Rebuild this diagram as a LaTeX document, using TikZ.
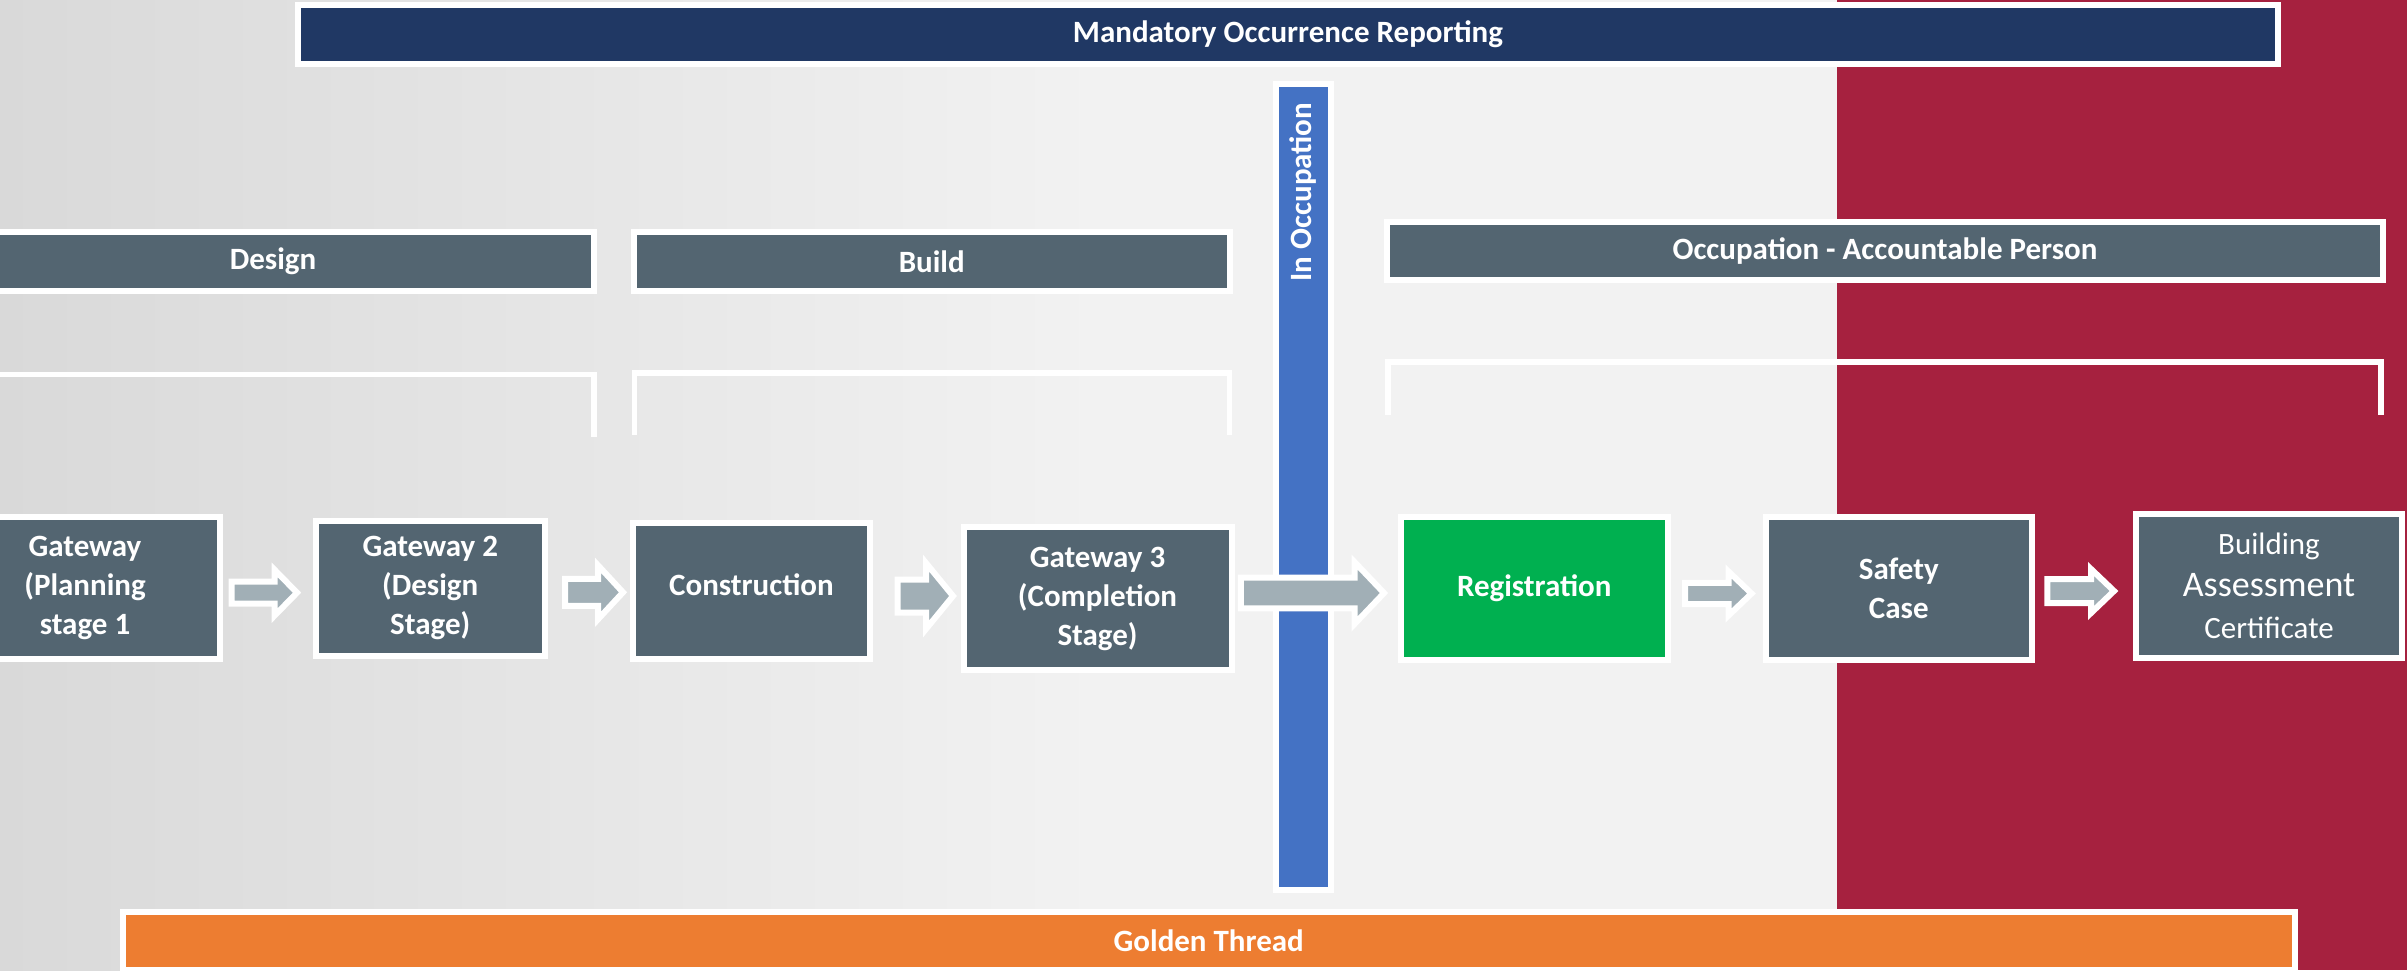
\documentclass[tikz,border=0pt]{standalone}
\usepackage{fontspec}
\setmainfont{Carlito}
\usetikzlibrary{calc}
\definecolor{navy}{HTML}{203864}
\definecolor{slate}{HTML}{536571}
\definecolor{regreen}{HTML}{00B050}
\definecolor{barblue}{HTML}{4472C4}
\definecolor{goldorange}{HTML}{ED7D31}
\definecolor{crimson}{HTML}{A6213F}
\definecolor{arrgrey}{HTML}{A1AFB6}
\definecolor{bgA}{HTML}{D9D9D9}
\definecolor{bgB}{HTML}{F2F2F2}
\tikzset{
  box/.style={draw=white, line width=3pt, fill=slate, text=white,
    font=\bfseries\fontsize{15.5}{19.5}\selectfont, align=center, inner sep=0pt},
  brk/.style={draw=white, line width=2.8pt, line join=miter},
  blk/.style={draw=white, fill=arrgrey, line width=3pt, line join=miter},
}
% #1 from, #2 to, #3 start gap, #4 end gap, #5 y centre, #6 shaft half, #7 head half, #8 head length (px)
\newcommand{\blockarrow}[8]{%
  \draw[blk] let \p1=(#1.east), \p2=(#2.west) in
    ({\x1+#3*0.5pt},{(-#5+#6)*0.5pt}) --
    ({\x2-#4*0.5pt-#8*0.5pt},{(-#5+#6)*0.5pt}) --
    ({\x2-#4*0.5pt-#8*0.5pt},{(-#5+#7)*0.5pt}) --
    ({\x2-#4*0.5pt},{-#5*0.5pt}) --
    ({\x2-#4*0.5pt-#8*0.5pt},{(-#5-#7)*0.5pt}) --
    ({\x2-#4*0.5pt-#8*0.5pt},{(-#5-#6)*0.5pt}) --
    ({\x1+#3*0.5pt},{(-#5-#6)*0.5pt}) -- cycle;}
\begin{document}
\begin{tikzpicture}[x=0.5pt,y=-0.5pt]
\useasboundingbox (0,0) rectangle (2407,970);
% background
\shade[left color=bgA, right color=bgB] (0,0) rectangle (1100,970);
\fill[bgB] (1099,0) rectangle (1837,970);
\fill[crimson] (1837,0) rectangle (2407,970);

% bars
\node[box, fill=navy, minimum width=990pt, minimum height=29.5pt] (mand) at (1288,34.5) {Mandatory Occurrence Reporting};
\node[box, minimum width=321pt, minimum height=29.25pt] (design) at (273,261.25) {Design};
\node[box, minimum width=297.75pt, minimum height=29.25pt] (build) at (931.75,261.25) {Build};
\node[box, minimum width=498pt, minimum height=29pt] (occ) at (1885,251) {Occupation - Accountable Person};
\node[box, fill=barblue, minimum width=27.5pt, minimum height=403.25pt] (inocc) at (1303.5,486.75) {};
\node[text=white, font=\bfseries\fontsize{15.5}{19.5}\selectfont, rotate=90, inner sep=0pt] (inocclbl) at (1303.5,192) {In Occupation};
\node[box, fill=goldorange, minimum width=1085.75pt, minimum height=29.25pt] (golden) at (1208.75,940.75) {Golden Thread};

% brackets
\draw[brk] (-60,374.5) -- (594,374.5) -- (594,437);
\draw[brk] (634.5,435) -- (634.5,373) -- (1229.5,373) -- (1229.5,435);
\draw[brk] (1388,415) -- (1388,362) -- (2381,362) -- (2381,415);

% stage boxes
\node[box, minimum width=134.5pt, minimum height=71.25pt] (g1) at (85,587.75) {Gateway\\(Planning\\stage 1};
\node[box, minimum width=114.25pt, minimum height=67.75pt] (g2) at (430.25,588.25) {Gateway 2\\(Design\\Stage)};
\node[box, minimum width=118.5pt, minimum height=68pt] (cons) at (751.5,591) {\raisebox{6pt}{Construction}};
\node[box, minimum width=134pt, minimum height=71.5pt] (g3) at (1097.5,598.5) {Gateway 3\\(Completion\\Stage)};
\node[box, fill=regreen, minimum width=133.25pt, minimum height=71.75pt] (reg) at (1534.25,588.25) {Registration};
\node[box, minimum width=133.25pt, minimum height=71.75pt] (safety) at (1898.75,588.25) {Safety\\Case};
\node[box, font=\fontsize{15.5}{21}\selectfont, minimum width=133pt, minimum height=71.75pt] (bac) at (2269,585.75) {Building\\{\fontsize{18}{21}\selectfont Assessment}\\Certificate};

% block arrows
\blockarrow{g1}{g2}{9.2}{16}{592.7}{11}{23}{22.5}
\blockarrow{g2}{cons}{17.5}{7}{592.3}{13.5}{27}{25}
\blockarrow{cons}{g3}{24.5}{7.5}{596}{16.5}{33}{27}
\blockarrow{g3}{reg}{6.3}{14}{593}{15.4}{31}{29.5}
\blockarrow{reg}{safety}{14.5}{11}{593.5}{10.7}{22}{23}
\blockarrow{safety}{bac}{12.3}{19}{591}{12}{22}{23}
\end{tikzpicture}
\end{document}
